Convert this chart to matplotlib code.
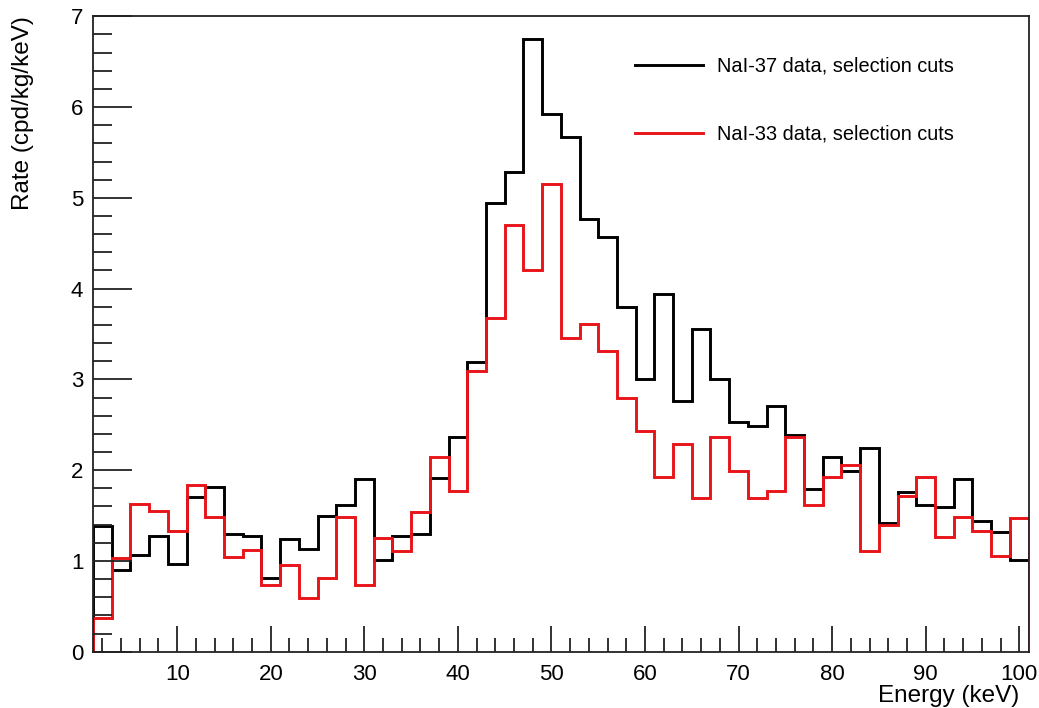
import numpy as np
import matplotlib
matplotlib.use('Agg')
import matplotlib.pyplot as plt
from matplotlib.ticker import MultipleLocator

plt.rcParams['font.family'] = ['Liberation Sans', 'DejaVu Sans']

# 2 keV bins from 1 to 101 keV
edges = np.arange(1, 102, 2)

# rates per bin (cpd/kg/keV)
nai37 = [1.39, 0.90, 1.07, 1.27, 0.97, 1.70, 1.82, 1.30, 1.27, 0.81,
         1.24, 1.13, 1.50, 1.62, 1.90, 1.01, 1.27, 1.30, 1.91, 2.36,
         3.19, 4.94, 5.29, 6.75, 5.92, 5.67, 4.77, 4.57, 3.80, 3.00,
         3.94, 2.76, 3.56, 3.00, 2.53, 2.49, 2.71, 2.39, 1.79, 2.15,
         1.99, 2.24, 1.42, 1.76, 1.62, 1.59, 1.90, 1.44, 1.32, 1.01]
nai33 = [0.37, 1.03, 1.63, 1.55, 1.33, 1.84, 1.48, 1.04, 1.12, 0.74,
         0.96, 0.59, 0.81, 1.48, 0.73, 1.25, 1.11, 1.54, 2.14, 1.77,
         3.09, 3.68, 4.70, 4.20, 5.15, 3.46, 3.61, 3.31, 2.80, 2.43,
         1.92, 2.29, 1.69, 2.36, 1.99, 1.69, 1.77, 2.36, 1.62, 1.92,
         2.06, 1.11, 1.40, 1.71, 1.92, 1.26, 1.48, 1.33, 1.05, 1.47]

labels = ['NaI-37 data, selection cuts', 'NaI-33 data, selection cuts']

fig = plt.figure(figsize=(10.39, 7.08), dpi=100)
ax = fig.add_axes([0.0895, 0.0795, 0.9005, 0.8975])

ax.stairs(nai37, edges, color='black', lw=2.1, label=labels[0])
ax.stairs(nai33, edges, color='#e8141a', lw=2.1, label=labels[1])

ax.set_xlim(1, 101)
ax.set_ylim(0, 7)

ax.xaxis.set_major_locator(MultipleLocator(10))
ax.xaxis.set_minor_locator(MultipleLocator(2))
ax.yaxis.set_major_locator(MultipleLocator(1))
ax.yaxis.set_minor_locator(MultipleLocator(0.2))
ax.tick_params(axis='both', which='both', direction='in', width=1.3, color='#222222',
               top=False, right=False)
ax.tick_params(axis='x', which='major', length=19, pad=9, labelsize=16)
ax.tick_params(axis='x', which='minor', length=10)
ax.tick_params(axis='y', which='major', length=28, pad=7, labelsize=16)
ax.tick_params(axis='y', which='minor', length=14)

for s in ax.spines.values():
    s.set_linewidth(1.3)
    s.set_color('#222222')

ax.set_xlabel('Energy (keV)', fontsize=17.5, loc='right')
ax.set_ylabel('Rate (cpd/kg/keV)', fontsize=17.5, loc='top')
ax.xaxis.set_label_coords(0.990, -0.052)
ax.yaxis.set_label_coords(-0.063, 1.0)

ax.legend(loc='upper left', bbox_to_anchor=(0.579, 0.936), frameon=False,
          fontsize=14.4, handlelength=3.4, handletextpad=0.7, labelspacing=2.45,
          borderpad=0, borderaxespad=0)

fig.savefig('out.png', dpi=100)
